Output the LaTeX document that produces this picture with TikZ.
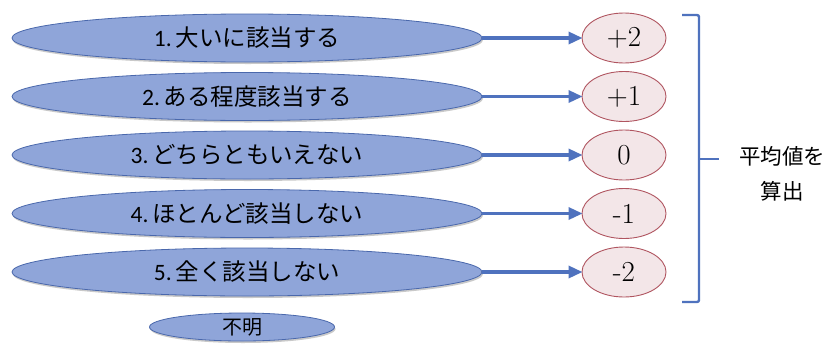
\documentclass[tikz,border=0pt]{standalone}
\usepackage{fontspec}
\newfontfamily\lat{Carlito}
\newfontfamily\cjk{Noto Sans CJK JP}
\usetikzlibrary{shapes.geometric,arrows.meta,shadows}
\definecolor{bfill}{HTML}{8FA5D9}
\definecolor{bdraw}{HTML}{4A68AC}
\definecolor{pfill}{HTML}{F3E6E8}
\definecolor{pdraw}{HTML}{B05560}
\definecolor{arr}{HTML}{4F72BE}
\tikzset{
  opt/.style={ellipse, draw=bdraw, line width=0.8pt, fill=bfill, inner sep=0pt,
    minimum width=470pt, minimum height=48pt,
    drop shadow={shadow xshift=1pt, shadow yshift=-2pt, opacity=0.35, fill=black!60},
    font=\lat\fontsize{23.5}{27}\selectfont},
  val/.style={ellipse, draw=pdraw, line width=0.9pt, fill=pfill, inner sep=0pt,
    minimum width=84pt, minimum height=50pt,
    font=\rmfamily\fontsize{29}{32}\selectfont},
  conn/.style={draw=arr, line width=3.2pt, -{Triangle[length=14pt,width=12pt]}, shorten >=-1pt},
  brk/.style={draw=arr, line width=2.4pt, rounded corners=2pt},
}
\newcommand{\lbl}[2]{#1\,{\cjk #2}}
\begin{document}
\begin{tikzpicture}[x=1pt,y=-1pt]
\useasboundingbox (0,0) rectangle (834,343);
\fill[white] (0,0) rectangle (834,343);
\node[opt] (o1) at (247,38) {\lbl{1.}{大いに該当する}};
\node[opt] (o2) at (247,96.5) {\lbl{2.}{ある程度該当する}};
\node[opt] (o3) at (247,155) {\lbl{3.}{どちらともいえない}};
\node[opt] (o4) at (247,213.5) {\lbl{4.}{ほとんど該当しない}};
\node[opt] (o5) at (247,272) {\lbl{5.}{全く該当しない}};
\node[opt, minimum width=185pt, minimum height=28pt, font=\cjk\fontsize{20}{22}\selectfont] (o6) at (242,327) {不明};
\node[val] (v1) at (624,38) {+2};
\node[val] (v2) at (624,96.5) {+1};
\node[val] (v3) at (624,155) {0};
\node[val] (v4) at (624,213.5) {-1};
\node[val] (v5) at (624,272) {-2};
\foreach \i in {1,...,5} {\draw[conn] (o\i.east) -- (v\i.west);}
\coordinate (bt) at (682,15);
\coordinate (bb) at (682,302);
\coordinate (bm) at (699,159);
\coordinate (bx) at (719,159);
\draw[brk] (bt) -- (699,15) -- (699,302) -- (bb);
\draw[brk] (bm) -- (bx);
\node[font=\cjk\fontsize{21.5}{35}\selectfont, align=center, inner sep=0pt] (res) at (782,174) {平均値を\\算出};
\end{tikzpicture}
\end{document}
